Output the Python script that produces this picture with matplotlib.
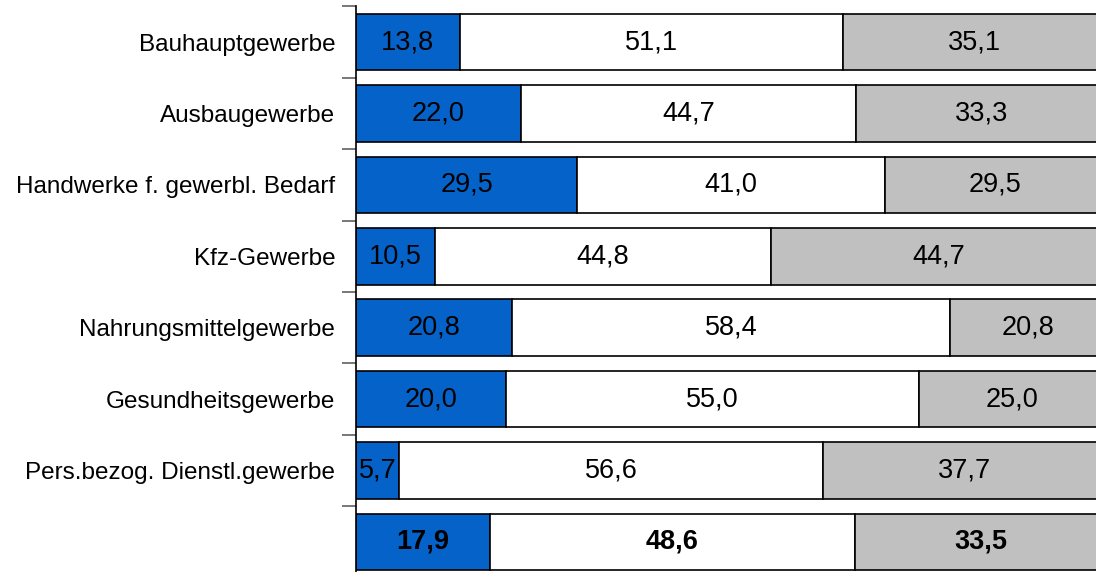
import numpy as np
import matplotlib.pyplot as plt
from matplotlib.ticker import FixedLocator

categories = ['Bauhauptgewerbe', 'Ausbaugewerbe', 'Handwerke f. gewerbl. Bedarf',
              'Kfz-Gewerbe', 'Nahrungsmittelgewerbe', 'Gesundheitsgewerbe',
              'Pers.bezog. Dienstl.gewerbe', '']
blue_vals = [13.8, 22.0, 29.5, 10.5, 20.8, 20.0, 5.7, 17.9]
white_vals = [51.1, 44.7, 41.0, 44.8, 58.4, 55.0, 56.6, 48.6]
gray_vals = [35.1, 33.3, 29.5, 44.7, 20.8, 25.0, 37.7, 33.5]

colors = ['#0562C8', '#FFFFFF', '#C0C0C0']
fam = ['Liberation Sans', 'DejaVu Sans']

fig = plt.figure(figsize=(10.96, 5.72), dpi=100)
W, H = 1096, 572
# axes runs a little past the right and bottom edge, as in the original
ax = fig.add_axes([356 / W, -5.7 / H, 750 / W, 571.4 / H])

y = np.arange(len(categories))
left = np.zeros(len(categories))
for vals, c in zip([blue_vals, white_vals, gray_vals], colors):
    ax.barh(y, vals, left=left, height=0.79, color=c, edgecolor='black', linewidth=1.2)
    for i, v in enumerate(vals):
        bold = (i == len(categories) - 1)
        ax.text(left[i] + v / 2, y[i], f'{v:.1f}'.replace('.', ','),
                ha='center', va='center', fontsize=19.5, family=fam,
                fontweight='bold' if bold else 'normal')
    left += np.array(vals)

ax.set_xlim(0, 100)
ax.set_ylim(len(categories) - 0.5, -0.5)
ax.set_yticks(y)
ax.set_yticklabels(categories, fontsize=17.5, family=fam)
ax.tick_params(axis='y', which='major', length=0, pad=15)
ax.yaxis.set_minor_locator(FixedLocator(np.arange(-0.5, len(categories), 1)))
ax.tick_params(axis='y', which='minor', length=10, color='#606060', width=1.2)
ax.set_xticks([])
for s in ['top', 'right', 'bottom']:
    ax.spines[s].set_visible(False)
ax.spines['left'].set_linewidth(1.2)

fig.savefig('out.png', dpi=100)
